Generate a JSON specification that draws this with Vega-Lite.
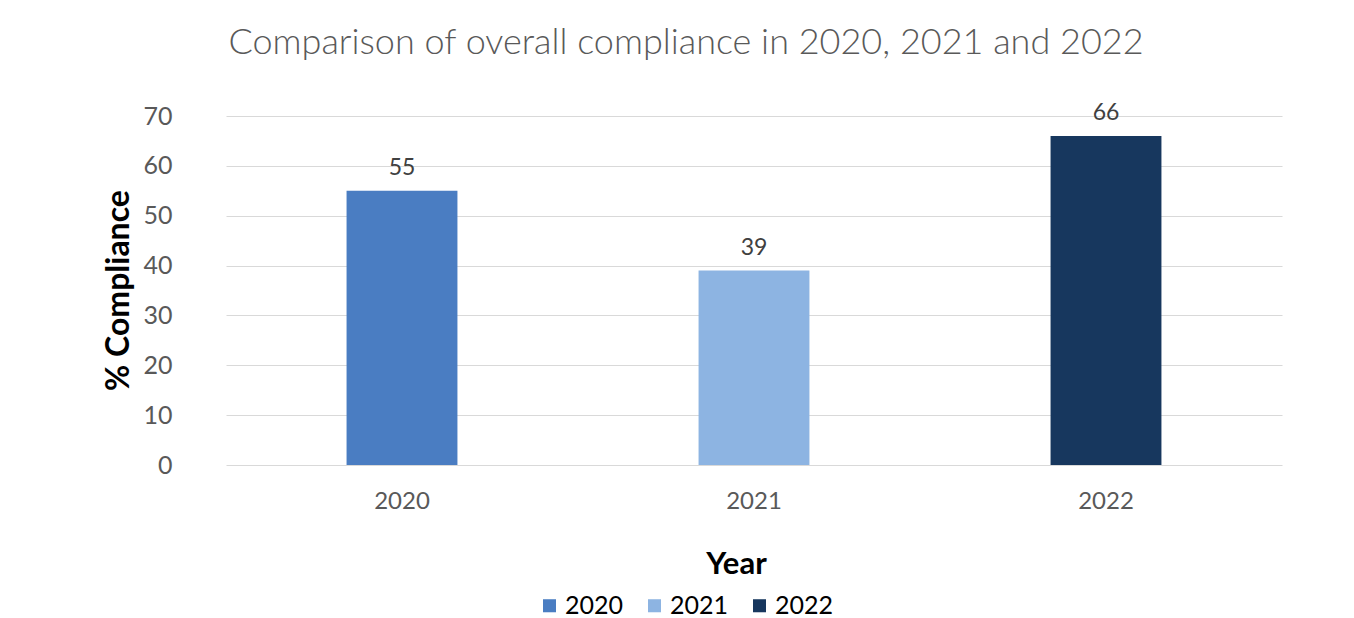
{
  "$schema": "https://vega.github.io/schema/vega-lite/v6.json",
  "width": 1056,
  "height": 349,
  "autosize": {"type": "none"},
  "padding": {"left": 226, "top": 116, "right": 72, "bottom": 153},
  "background": "white",
  "title": {
    "text": "Comparison of overall compliance in 2020, 2021 and 2022",
    "font": "Lato",
    "fontSize": 36,
    "fontWeight": 300,
    "color": "#595959",
    "anchor": "middle",
    "dx": -68,
    "offset": 40
  },
  "data": {
    "values": [
      {"year": "2020", "value": 55},
      {"year": "2021", "value": 39},
      {"year": "2022", "value": 66}
    ]
  },
  "encoding": {
    "x": {
      "field": "year",
      "type": "nominal",
      "scale": {"paddingInner": 0, "paddingOuter": 0},
      "axis": {
        "title": "Year",
        "labelAngle": 0,
        "labelFont": "Lato",
        "labelFontSize": 24,
        "labelColor": "#595959",
        "labelPadding": 24,
        "ticks": false,
        "domain": false,
        "titleFont": "Lato",
        "titleFontSize": 31,
        "titleFontWeight": "bold",
        "titleColor": "#000000",
        "titleX": 510,
        "titleY": 108,
        "titleBaseline": "alphabetic"
      }
    },
    "y": {
      "field": "value",
      "type": "quantitative",
      "scale": {"domain": [0, 70]},
      "axis": {
        "title": "% Compliance",
        "values": [0, 10, 20, 30, 40, 50, 60, 70],
        "labelFont": "Lato",
        "labelFontSize": 25,
        "labelColor": "#595959",
        "labelPadding": 54,
        "ticks": false,
        "domain": false,
        "gridColor": "#d9d9d9",
        "gridWidth": 1.2,
        "titleFont": "Lato",
        "titleFontSize": 32,
        "titleFontWeight": "bold",
        "titleColor": "#000000",
        "titleX": -108,
        "titleY": 174,
        "titleAngle": -90,
        "titleAlign": "center",
        "titleBaseline": "middle"
      }
    }
  },
  "layer": [
    {
      "mark": {"type": "bar", "width": {"band": 0.315}},
      "encoding": {
        "color": {
          "field": "year",
          "type": "nominal",
          "scale": {"domain": ["2020", "2021", "2022"], "range": ["#4a7dc2", "#8db4e2", "#17375e"]},
          "legend": {
            "title": null,
            "orient": "none",
            "direction": "horizontal",
            "legendX": 311,
            "legendY": 477,
            "symbolType": "square",
            "symbolSize": 170,
            "symbolStrokeWidth": 0,
            "labelFont": "Lato",
            "labelFontSize": 25,
            "labelColor": "#000000",
            "labelOffset": 3,
            "columnPadding": 18
          }
        }
      }
    },
    {
      "mark": {"type": "text", "baseline": "alphabetic", "dy": -16, "font": "Lato", "fontSize": 23, "color": "#404040"},
      "encoding": {
        "text": {"field": "value", "type": "quantitative"}
      }
    }
  ],
  "config": {
    "view": {"stroke": null}
  }
}
